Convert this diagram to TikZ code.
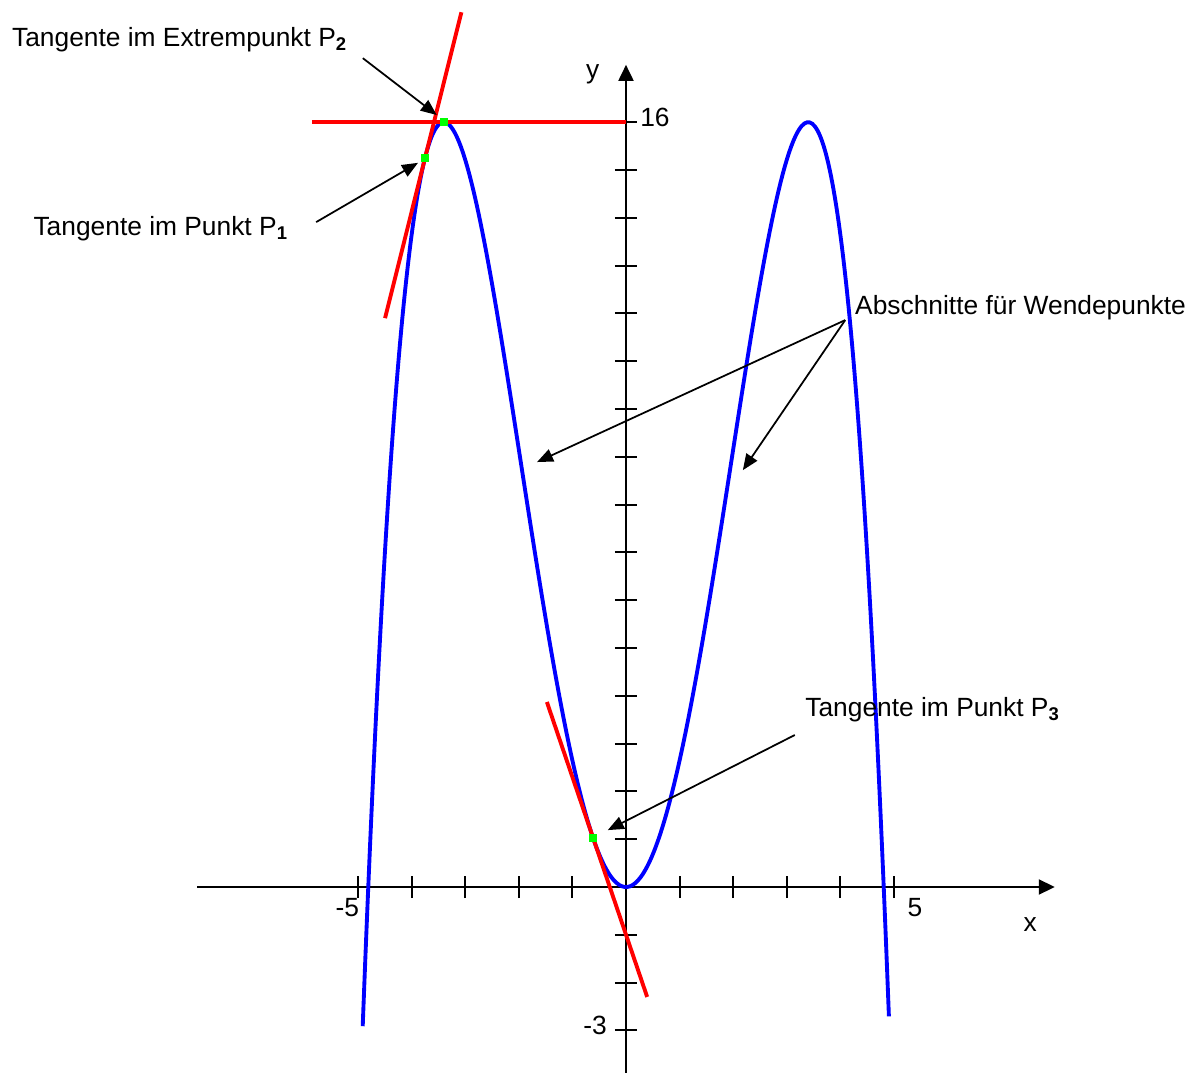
\documentclass[tikz,border=0pt]{standalone}
\usepackage{fontspec}
\setmainfont{Liberation Sans}
\usetikzlibrary{positioning, arrows.meta, calc}

\begin{document}
\begin{tikzpicture}[
		% Einheiten des Koordinatensystems
		x=1.072cm, y=0.956cm,
		% Stile für Kurve, Tangenten und Punkte
		kurve/.style={draw=blue, line width=2.2pt},
		tangente/.style={draw=red, line width=2.2pt},
		punkt/.style={fill=green, draw=none, minimum size=0.16cm, inner sep=0pt, rectangle},
		% Stile für Achsen und Pfeile
		achse/.style={-{Triangle[length=0.32cm, width=0.3cm]}, line width=1.1pt},
		strich/.style={line width=1.1pt},
		pfeil/.style={-{Triangle[length=0.32cm, width=0.26cm]}, line width=1pt},
		beschriftung/.style={font=\fontsize{15}{18}\selectfont, inner sep=0pt, anchor=west},
		zahl/.style={font=\fontsize{15}{18}\selectfont, inner sep=0pt}
		]
		
		% Rahmen des Bildes
		\useasboundingbox (-12.52cm,-3.7cm) rectangle (11.52cm,17.74cm);
		
		% --- ACHSEN ---
		\draw[achse] (-8,0) -- (8,0);
		\draw[achse] (0,-3.9) -- (0,17.2);
		\foreach \i in {-5,...,-1,1,2,...,5}
			\draw[strich] (\i,0) ++(0,-0.22cm) -- ++(0,0.44cm);
		\foreach \j in {-3,...,-1,1,2,...,16}
			\draw[strich] (0,\j) ++(-0.22cm,0) -- ++(0.44cm,0);
		
		% Achsenbeschriftung
		\node[zahl] (xlabel) at (7.54,-0.79) {x};
		\node[zahl] (ylabel) at (-0.62,17.0) {y};
		\node[zahl] (minusfuenf) at (-5.2,-0.42) {-5};
		\node[zahl] (fuenf) at (5.39,-0.42) {5};
		\node[zahl, anchor=east] (minusdrei) at (-0.35,-2.89) {-3};
		\node[zahl, anchor=west] (sechzehn) at (0.26,16.09) {16};
		
		% --- FUNKTIONSGRAPH ---
		\draw[kurve] plot[domain=-4.912:4.905, samples=200, smooth] (\x,{16-0.11973*(\x*\x-11.56)^2});
		
		% --- TANGENTEN ---
		\coordinate (P1) at (-3.75,15.25);
		\coordinate (P2) at (-3.4,16);
		\coordinate (P3) at (-0.616,1.034);
		\coordinate (t1a) at (-4.495,11.9);
		\coordinate (t1b) at (-3.071,18.3);
		\coordinate (t2a) at (-5.86,16);
		\coordinate (t2b) at (0,16);
		\coordinate (t3a) at (-1.476,3.87);
		\coordinate (t3b) at (0.395,-2.3);
		\draw[tangente] (t2a) -- (t2b);
		\draw[tangente] (t1a) -- (t1b);
		\draw[tangente] (t3a) -- (t3b);
		
		% Berührpunkte
		\node[punkt] (p1) at (P1) {};
		\node[punkt] (p2) at (P2) {};
		\node[punkt] (p3) at (P3) {};
		
		% --- BESCHRIFTUNGEN UND PFEILE ---
		\node[beschriftung] (lextrem) at (-11.46,17.72) {Tangente im Extrempunkt P\textsubscript{\textbf{2}}};
		\node[beschriftung] (lpunkt1) at (-11.06,13.77) {Tangente im Punkt P\textsubscript{\textbf{1}}};
		\node[beschriftung] (lwende) at (4.27,12.12) {Abschnitte für Wendepunkte};
		\node[beschriftung] (lpunkt3) at (3.34,3.72) {Tangente im Punkt P\textsubscript{\textbf{3}}};
		
		\coordinate (a2s) at (-4.91,17.34);
		\coordinate (a2e) at (-3.53,16.15);
		\coordinate (a1s) at (-5.78,13.91);
		\coordinate (a1e) at (-3.88,15.15);
		\coordinate (aws) at (4.09,11.86);
		\coordinate (aw1) at (-1.66,8.89);
		\coordinate (aw2) at (2.18,8.72);
		\coordinate (a3s) at (3.15,3.18);
		\coordinate (a3e) at (-0.34,1.19);
		
		\draw[pfeil] (a2s) -- (a2e);
		\draw[pfeil] (a1s) -- (a1e);
		\draw[pfeil] (aws) -- (aw1);
		\draw[pfeil] (aws) -- (aw2);
		\draw[pfeil] (a3s) -- (a3e);
		
	\end{tikzpicture}
\end{document}
